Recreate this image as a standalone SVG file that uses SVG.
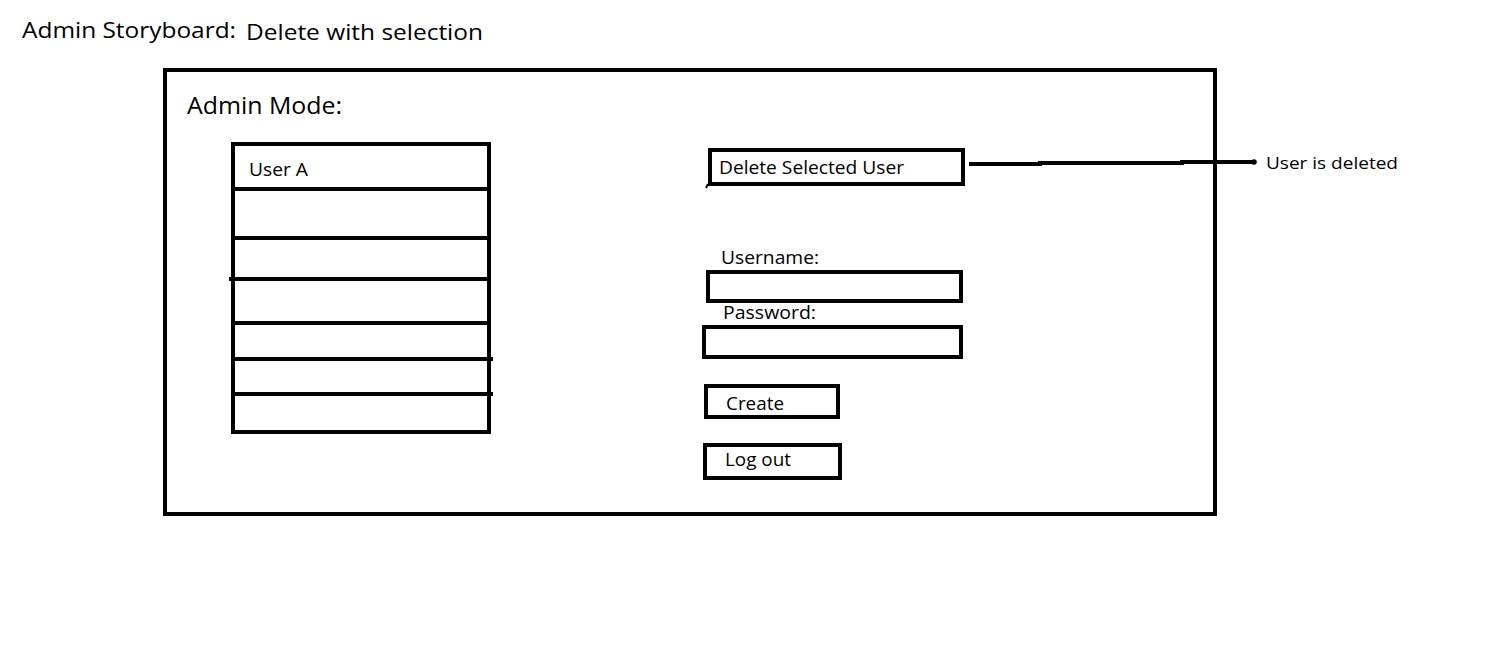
<svg xmlns="http://www.w3.org/2000/svg" width="1506" height="648" viewBox="0 0 1506 648">
<style>
.box{fill:none;stroke:#000;stroke-width:4}
.ln{fill:none;stroke:#000;stroke-width:4;stroke-linecap:butt}
text{font-family:"Open Sans","Liberation Sans",sans-serif;fill:#000}
.t1{font-size:22px}
.t2{font-size:24px}
.t3{font-size:18px}
.t4{font-size:17px}
</style>
<rect width="1506" height="648" fill="#fff"/>
<g id="title">
<text class="t1" x="22" y="38" textLength="214" lengthAdjust="spacingAndGlyphs">Admin Storyboard:</text>
<text class="t1" x="246" y="40" textLength="237" lengthAdjust="spacingAndGlyphs">Delete with selection</text>
</g>
<g id="frame">
<rect class="box" x="165" y="70" width="1050" height="444" stroke-width="4.5"/>
<text class="t2" x="187" y="114" textLength="155" lengthAdjust="spacingAndGlyphs">Admin Mode:</text>
</g>
<g id="user-list">
<rect class="box" x="233" y="144" width="256" height="288"/>
<line class="ln" x1="233" y1="189" x2="489" y2="189"/>
<line class="ln" x1="233" y1="238" x2="489" y2="238"/>
<line class="ln" x1="229" y1="279" x2="489" y2="279"/>
<line class="ln" x1="233" y1="323" x2="489" y2="323"/>
<line class="ln" x1="233" y1="359" x2="493" y2="359"/>
<line class="ln" x1="233" y1="394" x2="493" y2="394"/>
<text class="t3" x="249" y="176" textLength="59" lengthAdjust="spacingAndGlyphs">User A</text>
</g>
<g id="delete-button">
<rect class="box" x="710" y="150" width="253" height="34"/>
<line x1="708" y1="184" x2="706" y2="188" stroke="#000" stroke-width="2"/>
<text class="t3" x="719" y="174" textLength="185" lengthAdjust="spacingAndGlyphs">Delete Selected User</text>
</g>
<g id="username">
<text class="t3" x="721" y="264" textLength="98" lengthAdjust="spacingAndGlyphs">Username:</text>
<rect class="box" x="708" y="272" width="253" height="29"/>
</g>
<g id="password">
<text class="t3" x="723" y="319" textLength="93" lengthAdjust="spacingAndGlyphs">Password:</text>
<rect class="box" x="704" y="327" width="257" height="30"/>
</g>
<g id="create-button">
<rect class="box" x="706" y="386" width="132" height="31"/>
<text class="t3" x="726" y="410" textLength="58" lengthAdjust="spacingAndGlyphs">Create</text>
</g>
<g id="logout-button">
<rect class="box" x="705" y="445" width="135" height="33"/>
<text class="t3" x="725" y="466" textLength="66" lengthAdjust="spacingAndGlyphs">Log out</text>
</g>
<g id="connectors">
<polyline class="ln" points="969,164 1040,164 1040,163 1182,163 1182,162 1253,162"/>
<circle cx="1254" cy="162" r="2.8" fill="#000"/>
</g>
<g id="result">
<text class="t4" x="1266" y="169" textLength="132" lengthAdjust="spacingAndGlyphs">User is deleted</text>
</g>
</svg>
